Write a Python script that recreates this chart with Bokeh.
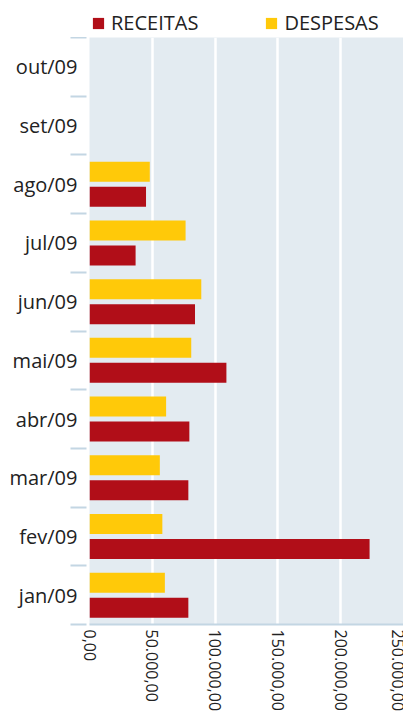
from bokeh.plotting import figure
from bokeh.models import ColumnDataSource, FixedTicker, Legend, LegendItem, Range1d
from bokeh.layouts import column
from bokeh.transform import dodge
from bokeh.embed import file_html
from bokeh.resources import INLINE

months = ["jan/09", "fev/09", "mar/09", "abr/09", "mai/09", "jun/09", "jul/09", "ago/09", "set/09", "out/09"]
receitas = [78700, 223000, 78700, 79500, 109000, 84000, 36700, 45000, 0, 0]
despesas = [60000, 58000, 56000, 61000, 81000, 89000, 76500, 48000, 0, 0]
series_names = ["RECEITAS", "DESPESAS"]
x_ticks = [0, 50000, 100000, 150000, 200000, 250000]
x_tick_labels = ["0,00", "50.000,00", "100.000,00", "150.000,00", "200.000,00", "250.000,00"]

RED = "#b10e18"
YELLOW = "#ffc909"
BG = "#e3ebf1"
TICK = "#c3d6e3"
FONT = "Open Sans"
TXT = "#222222"

pos = [i + 0.5 for i in range(len(months))]
src = ColumnDataSource(dict(y=pos, receitas=receitas, despesas=despesas))

p = figure(frame_width=314, frame_height=587, output_backend="svg", toolbar_location=None,
           x_range=Range1d(0, 250000), y_range=Range1d(0, len(months)),
           min_border_left=89, min_border_right=0, min_border_top=0, min_border_bottom=87)
p.outline_line_color = None
p.background_fill_color = BG
p.border_fill_color = "white"

p.hbar(y=dodge("y", 0.213), right="despesas", left=0, height=0.34, source=src,
       fill_color=YELLOW, line_color=None)
p.hbar(y=dodge("y", -0.213), right="receitas", left=0, height=0.34, source=src,
       fill_color=RED, line_color=None)

# x axis
p.xaxis.ticker = FixedTicker(ticks=x_ticks)
p.xaxis.major_label_overrides = {t: l for t, l in zip(x_ticks, x_tick_labels)}
p.xaxis.major_label_orientation = "vertical"
p.xaxis.major_label_text_font = FONT
p.xaxis.major_label_text_font_size = "16px"
p.xaxis.major_label_text_color = TXT
p.xaxis.major_label_standoff = 5
p.xaxis.major_tick_line_color = None
p.xaxis.major_tick_out = 0
p.xaxis.minor_tick_line_color = None
p.xaxis.axis_line_color = TICK
p.xaxis.axis_line_width = 2

# y axis
p.yaxis.ticker = FixedTicker(ticks=pos, minor_ticks=list(range(len(months) + 1)))
p.yaxis.major_label_overrides = {y: m for y, m in zip(pos, months)}
p.yaxis.axis_line_color = None
p.yaxis.major_tick_line_color = None
p.yaxis.major_tick_out = 0
p.yaxis.minor_tick_line_color = TICK
p.yaxis.minor_tick_line_width = 2
p.yaxis.minor_tick_out = 19
p.yaxis.minor_tick_in = -3
p.yaxis.major_label_text_font = FONT
p.yaxis.major_label_text_font_size = "20px"
p.yaxis.major_label_text_color = TXT
p.yaxis.major_label_standoff = -7

p.xgrid.grid_line_color = "white"
p.xgrid.grid_line_width = 2.5
p.ygrid.grid_line_color = None

# legend strip on top (its frame is aligned with the main frame by the column layout)
lg = figure(width=403, height=37, output_backend="svg", toolbar_location=None,
            x_axis_type=None, y_axis_type=None, x_range=Range1d(0, 1), y_range=Range1d(0, 1),
            min_border=0)
lg.outline_line_color = None
lg.grid.visible = False
nan = float("nan")
lr = lg.rect(x=[nan], y=[nan], width=1, height=1, fill_color=RED, line_color=None)
ld = lg.rect(x=[nan], y=[nan], width=1, height=1, fill_color=YELLOW, line_color=None)
legend = Legend(items=[LegendItem(label=series_names[0], renderers=[lr]),
                       LegendItem(label=series_names[1], renderers=[ld])],
                orientation="horizontal", location=(2, 1),
                label_text_font=FONT, label_text_font_size="20px", label_text_color=TXT,
                glyph_width=14, glyph_height=14, label_standoff=6, spacing=66,
                label_height=20, padding=0, margin=0, border_line_color=None,
                background_fill_alpha=0)
lg.add_layout(legend, "center")

layout = column(lg, p, spacing=0)
open("out.html", "w").write(file_html(layout, INLINE))
